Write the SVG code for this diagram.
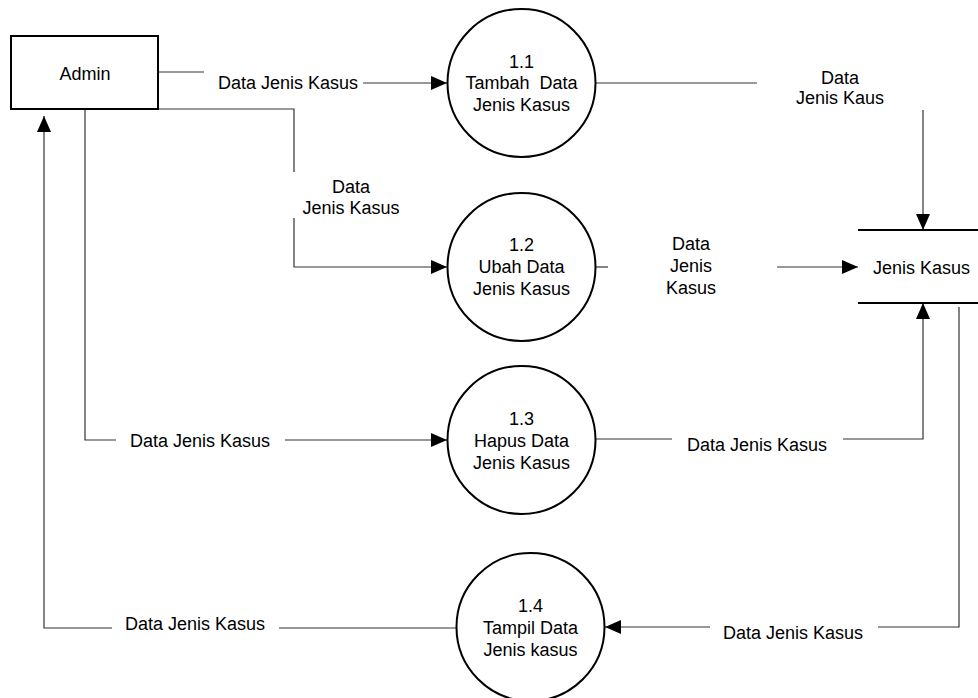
<svg xmlns="http://www.w3.org/2000/svg" width="978" height="698" viewBox="0 0 978 698">
  <defs>
    <style>
      text { font-family: "Liberation Sans", Arial, sans-serif; font-size: 18px; fill: #000; }
      .c { text-anchor: middle; }
      .s { text-anchor: start; }
      .proc { fill: #fff; stroke: #000; stroke-width: 2; }
      .ent { fill: #fff; stroke: #000; stroke-width: 2; }
      .store { stroke: #000; stroke-width: 2; }
      .flow { fill: none; stroke: #333; stroke-width: 1.2; }
      .arr { fill: none; stroke: #333; stroke-width: 1.2; marker-end: url(#head); }
    </style>
    <marker id="head" viewBox="0 0 16 14" refX="16" refY="7" markerWidth="16" markerHeight="14" markerUnits="userSpaceOnUse" orient="auto">
      <path d="M0,0 L16,7 L0,14 Z" fill="#000"/>
    </marker>
  </defs>

  <rect width="978" height="698" fill="#fff"/>

  <!-- connectors -->
  <g id="connectors">
    <!-- Admin -> 1.1 -->
    <path class="flow" d="M158,72 H204"/>
    <path class="arr" d="M363,83 H447"/>
    <text class="s" x="218" y="88.5">Data Jenis Kasus</text>

    <!-- Admin -> 1.2 -->
    <path class="flow" d="M158,109 H294 V172"/>
    <path class="arr" d="M294,218 V267 H447"/>
    <text class="c" x="351" y="192.5">Data</text>
    <text class="c" x="351" y="213.5">Jenis Kasus</text>

    <!-- Admin -> 1.3 -->
    <path class="flow" d="M85,109 V440 H116"/>
    <path class="arr" d="M285,440 H447"/>
    <text class="s" x="130" y="447">Data Jenis Kasus</text>

    <!-- 1.4 -> Admin -->
    <path class="flow" d="M456,628 H279"/>
    <path class="arr" d="M112,628 H44 V116"/>
    <text class="s" x="125" y="629.5">Data Jenis Kasus</text>

    <!-- 1.1 -> store -->
    <path class="flow" d="M596,83 H757"/>
    <path class="arr" d="M923,110 V230"/>
    <text class="c" x="840" y="83.5">Data</text>
    <text class="c" x="840" y="103.5">Jenis Kaus</text>

    <!-- 1.2 -> store -->
    <path class="flow" d="M596,267 H608"/>
    <path class="arr" d="M777,267 H858"/>
    <text class="c" x="691" y="249.5">Data</text>
    <text class="c" x="691" y="271.5">Jenis</text>
    <text class="c" x="691" y="293.5">Kasus</text>

    <!-- 1.3 -> store -->
    <path class="flow" d="M596,439 H672"/>
    <path class="arr" d="M843,439 H923 V303"/>
    <text class="s" x="687" y="450.5">Data Jenis Kasus</text>

    <!-- store -> 1.4 -->
    <path class="flow" d="M959,307 V627 H878"/>
    <path class="arr" d="M710,627 H605"/>
    <text class="s" x="723" y="638.5">Data Jenis Kasus</text>
  </g>

  <!-- external entity -->
  <g id="admin">
    <rect class="ent" x="11" y="36" width="147" height="73"/>
    <text class="c" x="85" y="79.5">Admin</text>
  </g>

  <!-- processes -->
  <g id="p1-1">
    <circle class="proc" cx="521.5" cy="83" r="74"/>
    <text class="c" x="521.5" y="67.5">1.1</text>
    <text class="c" x="521.5" y="89" xml:space="preserve">Tambah  Data</text>
    <text class="c" x="521.5" y="111">Jenis Kasus</text>
  </g>

  <g id="p1-2">
    <circle class="proc" cx="521.5" cy="267" r="74"/>
    <text class="c" x="521.5" y="250.5">1.2</text>
    <text class="c" x="521.5" y="273">Ubah Data</text>
    <text class="c" x="521.5" y="295">Jenis Kasus</text>
  </g>

  <g id="p1-3">
    <circle class="proc" cx="521.5" cy="440" r="74"/>
    <text class="c" x="521.5" y="425">1.3</text>
    <text class="c" x="521.5" y="446.5">Hapus Data</text>
    <text class="c" x="521.5" y="468.5">Jenis Kasus</text>
  </g>

  <g id="p1-4">
    <circle class="proc" cx="530.5" cy="627" r="74"/>
    <text class="c" x="530.5" y="612">1.4</text>
    <text class="c" x="530.5" y="633.5">Tampil Data</text>
    <text class="c" x="530.5" y="655.5">Jenis kasus</text>
  </g>

  <!-- data store -->
  <g id="store-jenis-kasus">
    <line class="store" x1="858" y1="230" x2="978" y2="230"/>
    <line class="store" x1="858" y1="303" x2="978" y2="303"/>
    <text class="c" x="921.5" y="273.5">Jenis Kasus</text>
  </g>
</svg>
